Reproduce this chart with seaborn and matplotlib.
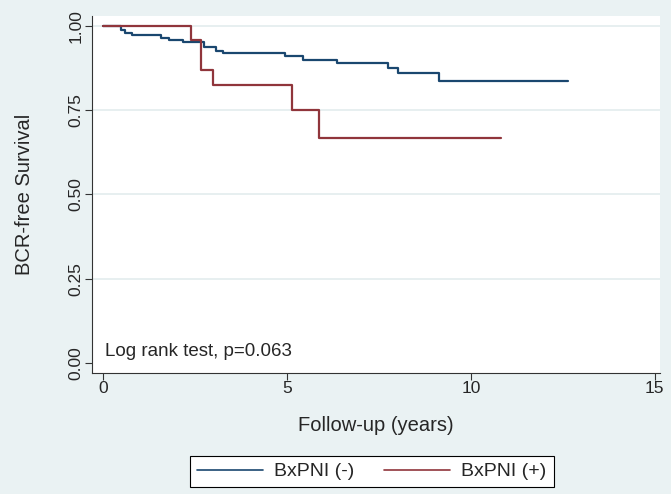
import matplotlib
matplotlib.use("Agg")
import matplotlib.pyplot as plt
import seaborn as sns
import pandas as pd
from matplotlib.lines import Line2D

# Kaplan-Meier steps (years, survival)
neg_time = [0, 0.48, 0.60, 0.78, 1.57, 1.78, 2.18, 2.75, 3.07, 3.27, 4.95,
            5.44, 6.35, 7.74, 8.03, 9.12, 12.63]
neg_surv = [1.0, 0.988, 0.980, 0.972, 0.964, 0.958, 0.952, 0.939, 0.927, 0.919,
            0.912, 0.899, 0.891, 0.874, 0.861, 0.836, 0.836]
pos_time = [0, 2.38, 2.66, 2.98, 5.14, 5.86, 10.83]
pos_surv = [1.0, 0.958, 0.868, 0.826, 0.75, 0.667, 0.667]

groups = ["BxPNI (-)", "BxPNI (+)"]
colors = ["#1A476F", "#90353B"]
x_ticks = [0, 5, 10, 15]
y_ticks = [0.0, 0.25, 0.5, 0.75, 1.0]

df = pd.concat([
    pd.DataFrame({"time": neg_time, "surv": neg_surv, "group": groups[0]}),
    pd.DataFrame({"time": pos_time, "surv": pos_surv, "group": groups[1]}),
])

sns.set_style("white")
plt.rcParams["font.family"] = ["Liberation Sans", "DejaVu Sans"]

bg = "#EAF2F3"
fig = plt.figure(figsize=(6.71, 4.94), dpi=100, facecolor=bg)
ax = fig.add_axes([92 / 671, 121 / 494, 568 / 671, 357 / 494])
ax.set_facecolor("white")

# grid
for yv in y_ticks[1:]:
    ax.axhline(yv, color="#E3ECEE", lw=1.2, zorder=0)

sns.lineplot(data=df, x="time", y="surv", hue="group", palette=colors,
             drawstyle="steps-post", estimator=None, sort=False,
             lw=1.6, legend=False, ax=ax)

ax.set_xlim(-0.30, 15.14)
ax.set_ylim(-0.0297, 1.0297)
ax.set_xticks(x_ticks)
ax.set_yticks(y_ticks)
ax.set_yticklabels([f"{v:.2f}" for v in y_ticks], rotation=90, va="center")
ax.tick_params(axis="both", direction="out", length=5, width=0.8,
               color="#333333", labelsize=12.5, pad=1, left=True, bottom=True)

for s in ["top", "right"]:
    ax.spines[s].set_visible(False)
for s in ["left", "bottom"]:
    ax.spines[s].set_color("#333333")
    ax.spines[s].set_linewidth(0.8)

ax.set_xlabel("Follow-up (years)", fontsize=14.5, labelpad=14)
ax.set_ylabel("BCR-free Survival", fontsize=14.5, labelpad=25)

ax.text(0.05, 0.01, "Log rank test, p=0.063", fontsize=13.5, va="bottom", ha="left")

handles = [Line2D([], [], color=c, lw=1.2) for c in colors]
fig.legend(handles, groups, loc="center", bbox_to_anchor=(0.554, 0.0455),
           ncol=2, frameon=True, fancybox=False, edgecolor="black",
           framealpha=1, handlelength=3.4, handletextpad=0.57,
           columnspacing=1.55, fontsize=14, borderpad=0.35)
fig.legends[0].get_frame().set_linewidth(0.8)

fig.savefig("out.png", dpi=100, facecolor=bg)
